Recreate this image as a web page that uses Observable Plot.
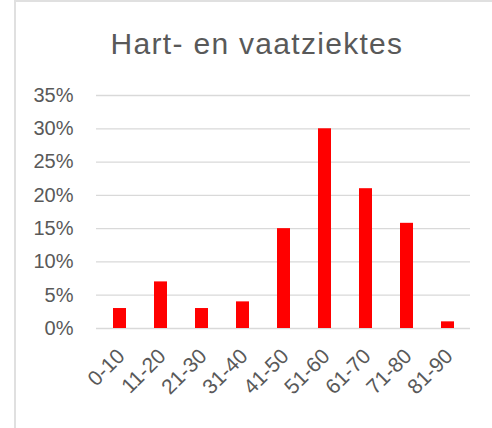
<!DOCTYPE html>
<html>
<head>
<meta charset="utf-8">
<script src="https://cdn.jsdelivr.net/npm/d3@7"></script>
<script src="https://cdn.jsdelivr.net/npm/@observablehq/plot@0.6"></script>
<style>
  html, body { margin: 0; padding: 0; background: #fff; }
  body { width: 492px; height: 428px; overflow: hidden; position: relative; font-family: "Liberation Sans", Arial, sans-serif; }
  #frame { position: absolute; left: 14px; top: 0; width: 490px; height: 440px; border-left: 2px solid #e0e0e0; border-top: 2px solid #e0e0e0; box-sizing: border-box; }
  #title { position: absolute; left: 0; width: 514px; top: 26px; text-align: center; font-size: 30px; letter-spacing: 1.3px; color: #595959; line-height: 36px; }
  #chart { position: absolute; left: 0; top: 70px; }
</style>
</head>
<body>
<div id="frame"></div>
<div id="title">Hart- en vaatziektes</div>
<div id="chart"></div>
<script>
const categories = ["0-10", "11-20", "21-30", "31-40", "41-50", "51-60", "61-70", "71-80", "81-90"];
const values = [3, 7, 3, 4, 15, 30, 21, 15.8, 1];
const yTicks = [0, 5, 10, 15, 20, 25, 30, 35];

const data = categories.map((c, i) => ({age: c, pct: values[i]}));

const plot = Plot.plot({
  width: 492,
  height: 358,
  marginLeft: 96,
  marginRight: 22,
  marginTop: 25,
  marginBottom: 100,
  style: {fontFamily: "Liberation Sans, Arial, sans-serif", fontSize: "20px", color: "#595959", background: "transparent"},
  x: {domain: categories, paddingInner: 0.69, paddingOuter: 0.345, label: null, axis: null},
  y: {domain: [0, 35], label: null, axis: null},
  marks: [
    Plot.ruleY(yTicks, {stroke: "#d9d9d9", strokeWidth: 1.3}),
    Plot.barY(data, {x: "age", y: "pct", fill: "#ff0000"}),
    Plot.axisY(yTicks, {tickSize: 0, tickPadding: 23, tickFormat: d => d + "%", fill: "#595959", fontSize: 20, label: null}),
    Plot.text(categories, {x: d => d, frameAnchor: "bottom", rotate: -45, textAnchor: "end", lineAnchor: "bottom", dx: 6, dy: 29, fill: "#595959", fontSize: 21})
  ]
});
document.getElementById("chart").appendChild(plot);
</script>
</body>
</html>
